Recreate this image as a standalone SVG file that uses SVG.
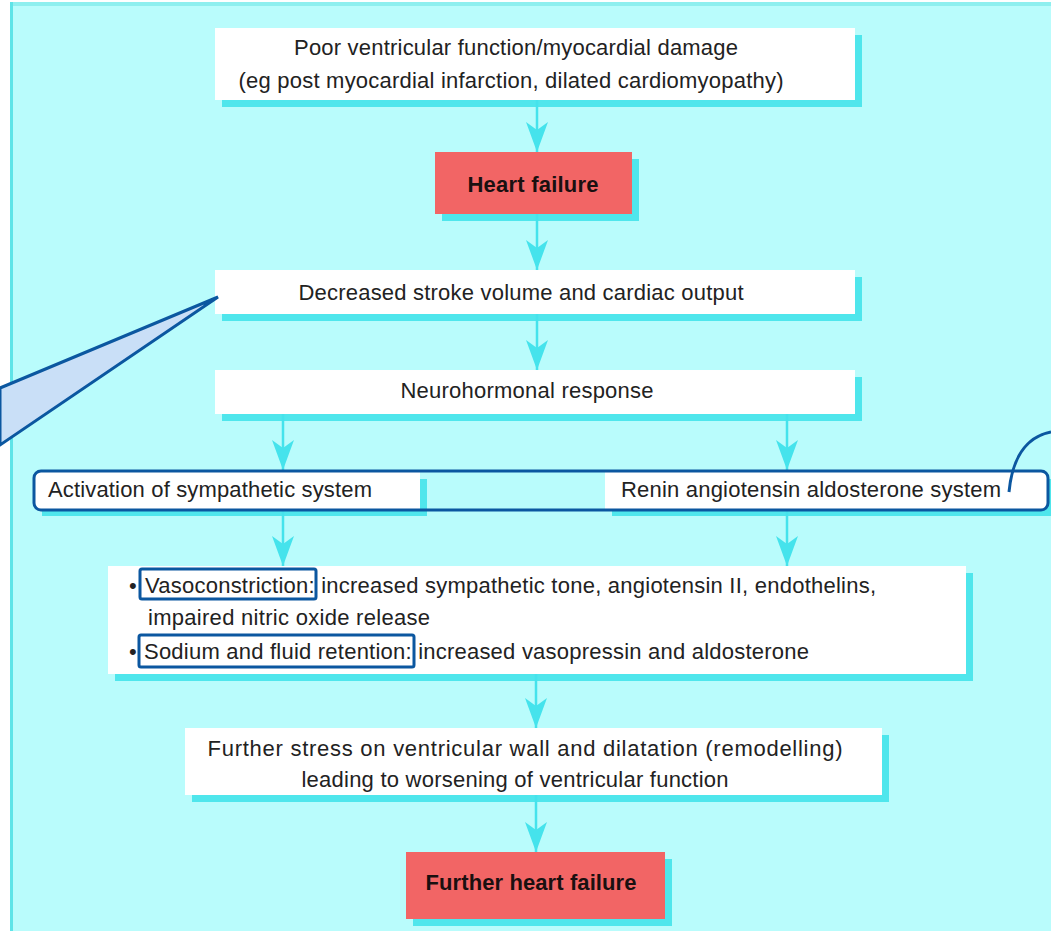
<svg xmlns="http://www.w3.org/2000/svg" width="1051" height="931" viewBox="0 0 1051 931">
<style>
.t{font-family:"Liberation Sans",Arial,sans-serif;font-size:22px;fill:#222;}
.c{text-anchor:middle;}
.b{font-weight:bold;fill:#1a1010;}
.box{fill:#ffffff;}
.red{fill:#f26565;}
.sh{fill:#4fe6ec;}
.hl{fill:none;stroke:#0b57a0;stroke-width:3;}
.conn line{stroke:#45e3ec;stroke-width:2.5;marker-end:url(#ah);}
</style>
<defs>
<marker id="ah" viewBox="0 0 30 22" refX="30" refY="11" markerUnits="userSpaceOnUse" markerWidth="30" markerHeight="22" orient="auto">
<path d="M0,0 L30,11 L0,22 L8,11 Z" fill="#45e3ec"/>
</marker>
</defs>
<rect x="0" y="0" width="1051" height="931" fill="#ffffff"/>
<rect x="10" y="2" width="1041" height="929" fill="#b9fcfc"/>
<rect x="10" y="2" width="1041" height="4" fill="#8eefef"/>
<rect x="10" y="2" width="3" height="929" fill="#5ee4e8"/>

<g id="n1">
<rect class="sh" x="222" y="35" width="640" height="72"/>
<rect class="box" x="215" y="28" width="640" height="72"/>
<text class="t c" x="516" y="55" textLength="444">Poor ventricular function/myocardial damage</text>
<text class="t c" x="511" y="88" textLength="545">(eg post myocardial infarction, dilated cardiomyopathy)</text>
</g>
<g id="n2">
<rect class="sh" x="442" y="159" width="197" height="62"/>
<rect class="red" x="435" y="152" width="197" height="62"/>
<text class="t c b" x="533" y="192" textLength="131">Heart failure</text>
</g>
<g id="n3">
<rect class="sh" x="222" y="277" width="640" height="44"/>
<rect class="box" x="215" y="270" width="640" height="44"/>
<text class="t c" x="521" y="300" textLength="445">Decreased stroke volume and cardiac output</text>
</g>
<g id="n4">
<rect class="sh" x="222" y="377" width="640" height="44"/>
<rect class="box" x="215" y="370" width="640" height="44"/>
<text class="t c" x="527" y="398" textLength="253">Neurohormonal response</text>
</g>
<g id="n5">
<rect class="sh" x="42" y="479" width="385" height="37"/>
<rect class="box" x="35" y="472" width="385" height="37"/>
<text class="t" x="48" y="497" textLength="324">Activation of sympathetic system</text>
</g>
<g id="n6">
<rect class="sh" x="612" y="479" width="440" height="37"/>
<rect class="box" x="605" y="472" width="442" height="37"/>
<text class="t" x="621" y="497" textLength="380">Renin angiotensin aldosterone system</text>
</g>
<g id="n7">
<rect class="sh" x="115" y="573" width="858" height="108"/>
<rect class="box" x="108" y="566" width="858" height="108"/>
<text class="t" x="129" y="593">•</text>
<text class="t" x="145" y="593" textLength="731">Vasoconstriction: increased sympathetic tone, angiotensin II, endothelins,</text>
<text class="t" x="148" y="625" textLength="282">impaired nitric oxide release</text>
<text class="t" x="129" y="659">•</text>
<text class="t" x="144" y="659" textLength="665">Sodium and fluid retention: increased vasopressin and aldosterone</text>
</g>
<g id="n8">
<rect class="sh" x="192" y="735" width="697" height="67"/>
<rect class="box" x="185" y="728" width="697" height="67"/>
<text class="t c" x="525" y="756" textLength="635">Further stress on ventricular wall and dilatation (remodelling)</text>
<text class="t c" x="515" y="787" textLength="427">leading to worsening of ventricular function</text>
</g>
<g id="n9">
<rect class="sh" x="413" y="859" width="259" height="67"/>
<rect class="red" x="406" y="852" width="259" height="67"/>
<text class="t c b" x="531" y="890" textLength="211">Further heart failure</text>
</g>

<g id="connectors" class="conn">
<line x1="537" y1="100" x2="537" y2="152"/>
<line x1="537" y1="214" x2="537" y2="270"/>
<line x1="537" y1="314" x2="537" y2="370"/>
<line x1="283" y1="414" x2="283" y2="470"/>
<line x1="787" y1="414" x2="787" y2="470"/>
<line x1="283" y1="509" x2="283" y2="566"/>
<line x1="787" y1="509" x2="787" y2="566"/>
<line x1="536" y1="674" x2="536" y2="728"/>
<line x1="536" y1="795" x2="536" y2="852"/>
</g>

<g id="annotations">
<path d="M0,388 L218,297 L0,445 Z" fill="#c9dff7" stroke="#0b57a0" stroke-width="3" stroke-linejoin="miter"/>
<rect class="hl" x="34" y="471" width="1014" height="39" rx="7"/>
<rect class="hl" x="140" y="569" width="176" height="30" rx="2"/>
<rect class="hl" x="139" y="635" width="275" height="32" rx="2"/>
<path d="M1009,492 C1012,460 1025,437 1051,432" fill="none" stroke="#0b57a0" stroke-width="3"/>
</g>
</svg>
